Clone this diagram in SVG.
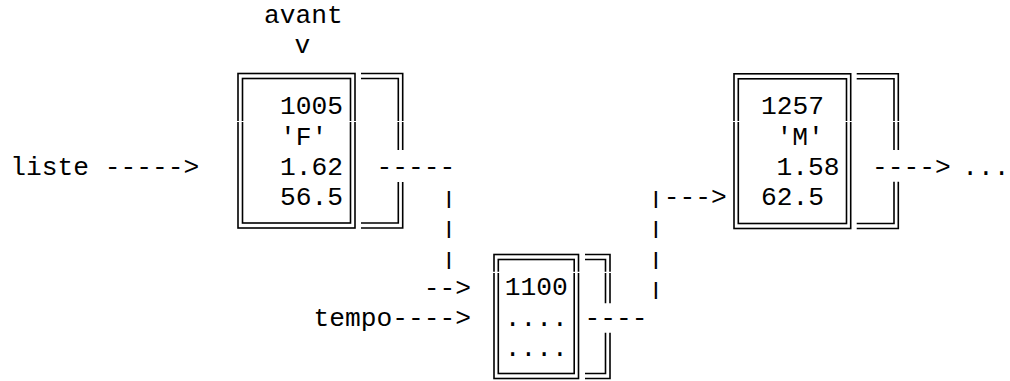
<svg xmlns="http://www.w3.org/2000/svg" width="1010" height="381" viewBox="0 0 1010 381">
<style>
text{font-family:"Liberation Mono","DejaVu Sans Mono",monospace;font-size:26.25px;fill:#000}
.b{fill:none;stroke:#000;stroke-width:1.6}
.seam{stroke:#fff;stroke-width:1.2}
</style>
<rect width="1010" height="381" fill="#fff"/>
<g id="labels">
<text x="264" y="23.3">avant</text>
<text x="294.6" y="53.3">v</text>
</g>
<g id="node-1005">
<rect class="b" x="238" y="73.5" width="117" height="154.5"/>
<rect class="b" x="242.5" y="78.5" width="108" height="144.5"/>
<path class="b" d="M361 73.5H402.7V150M402.7 182V228H361M361 78.5H398.3V150M398.3 182V223H361"/>
<text x="280" y="114">1005</text>
<text x="280" y="144.5">'F'</text>
<text x="280" y="175">1.62</text>
<text x="280" y="205">56.5</text>
</g>
<g id="node-1100">
<rect class="b" x="494" y="254.5" width="84.5" height="124"/>
<rect class="b" x="498.3" y="259.5" width="75.9" height="114"/>
<path class="b" d="M585 254.5H610V303.3M610 332.7V378.5H585M585 259.5H605.5V303.3M605.5 332.7V373.5H585"/>
<text x="504.8" y="295">1100</text>
<text x="504.8" y="325.5">....</text>
<text x="504.8" y="355.5">....</text>
</g>
<g id="node-1257">
<rect class="b" x="734" y="73.8" width="116.7" height="154.7"/>
<rect class="b" x="738.3" y="78.8" width="108.2" height="144.7"/>
<path class="b" d="M856.7 73.8H898.3V150M898.3 181.7V228.5H856.7M856.7 78.8H894V150M894 181.7V223.5H856.7"/>
<text x="761" y="114">1257</text>
<text x="776.5" y="144.5">'M'</text>
<text x="776.5" y="175">1.58</text>
<text x="761" y="205">62.5</text>
</g>
<g id="seams">
<path class="seam" d="M236 121.5H245M348 121.5H357M396 121.5H405M732 121.5H741M844 121.5H853M892 121.5H901M492 272.3H501M572 272.3H581M603 272.3H612"/>
</g>
<g id="connectors">
<text x="10.3" y="175">liste -----&gt;</text>
<text x="376.4" y="175">-----</text>
<text transform="translate(441.1 203.5) scale(1 0.72)">|</text>
<text transform="translate(441.1 234) scale(1 0.72)">|</text>
<text transform="translate(441.1 264.5) scale(1 0.72)">|</text>
<text x="423.8" y="296">--&gt;</text>
<text x="313.6" y="326">tempo----&gt;</text>
<text x="584.4" y="326">----</text>
<text transform="translate(648.1 203.5) scale(1 0.72)">|</text>
<text x="663.85" y="205">---&gt;</text>
<text transform="translate(648.1 234) scale(1 0.72)">|</text>
<text transform="translate(648.1 264.5) scale(1 0.72)">|</text>
<text transform="translate(648.1 294.5) scale(1 0.72)">|</text>
<text x="872.1" y="175">----&gt;</text>
<text x="962.3" y="175">...</text>
</g>
</svg>
